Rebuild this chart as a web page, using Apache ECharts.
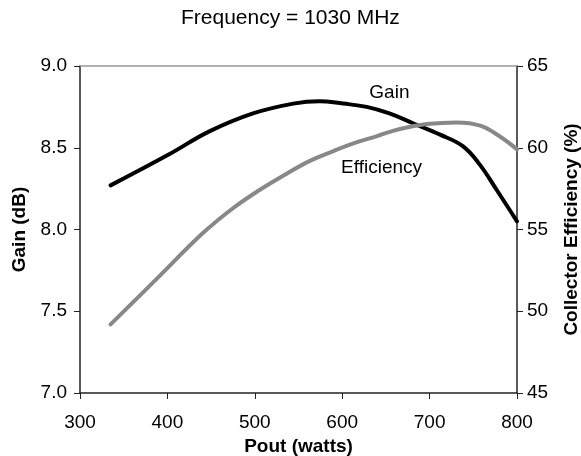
<!DOCTYPE html>
<html><head><meta charset="utf-8">
<script src="https://cdn.jsdelivr.net/npm/echarts@6/dist/echarts.min.js"></script>
<style>html,body{margin:0;padding:0;background:#fff}#c{width:581px;height:456px}</style>
</head><body><div id="c"></div>
<script>
const title = "Frequency = 1030 MHz";
const xName = "Pout (watts)";
const gainName = "Gain (dB)";
const effName = "Collector Efficiency (%)";
const gainPout = [335, 402, 448, 498, 544, 574, 601, 628, 654, 681, 712, 738, 757, 777, 800];
const gainVals = [8.27, 8.46, 8.60, 8.71, 8.77, 8.785, 8.77, 8.75, 8.71, 8.65, 8.58, 8.51, 8.40, 8.24, 8.05];
const effPout = [335, 390, 440, 475, 505, 536, 563, 590, 612, 639, 666, 697, 731, 758, 780, 800];
const effVals = [49.2, 52.1, 54.75, 56.3, 57.4, 58.4, 59.2, 59.8, 60.25, 60.7, 61.15, 61.45, 61.55, 61.35, 60.7, 59.9];
const gainLabel = "Gain";
const effLabel = "Efficiency";

const font = "Liberation Sans, Arial, sans-serif";
const FS = 19;
const chart = echarts.init(document.getElementById('c'));
chart.setOption({
  animation:false,
  title:{text:title, left:176, top:3, textStyle:{fontFamily:font, fontSize:21, fontWeight:'normal', color:'#000'}},
  grid:{left:80, right:64, top:66, bottom:63, containLabel:false, outerBoundsMode:'none'},
  xAxis:[{type:'value', min:300, max:800, interval:100, name:xName, nameLocation:'middle', nameGap:39,
    nameTextStyle:{fontFamily:font, fontSize:FS, fontWeight:'bold', color:'#000'},
    axisLine:{lineStyle:{color:'#222', width:1.5}}, axisTick:{show:true, inside:false, length:6, lineStyle:{color:'#222'}},
    axisLabel:{fontFamily:font, fontSize:FS, color:'#000', margin:20}, splitLine:{show:false}},
    {type:'value', position:'top', min:300, max:800, axisLine:{lineStyle:{color:'#999', width:1.5}}, axisTick:{show:false}, axisLabel:{show:false}, splitLine:{show:false}}],
  yAxis:[{type:'value', min:7.0, max:9.0, interval:0.5, name:gainName, nameLocation:'middle', nameRotate:90, nameGap:43,
    nameTextStyle:{fontFamily:font, fontSize:FS, fontWeight:'bold', color:'#000'},
    axisLine:{show:true, lineStyle:{color:'#222', width:1.5}}, axisTick:{show:true, length:6, lineStyle:{color:'#222'}},
    axisLabel:{fontFamily:font, fontSize:FS, color:'#000', margin:13, formatter:v=>v.toFixed(1)}, splitLine:{show:false}},
   {type:'value', position:'right', min:45, max:65, interval:5, name:effName, nameLocation:'middle', nameRotate:90, nameGap:45,
    nameTextStyle:{fontFamily:font, fontSize:FS, fontWeight:'bold', color:'#000'},
    axisLine:{show:true, lineStyle:{color:'#222', width:1.5}}, axisTick:{show:true, length:6, lineStyle:{color:'#222'}},
    axisLabel:{fontFamily:font, fontSize:FS, color:'#000', margin:10}, splitLine:{show:false}}],
  series:[
    {type:'line', name:gainLabel, xAxisIndex:0, yAxisIndex:0, data:gainPout.map((p,i)=>[p,gainVals[i]]), smooth:0.4, showSymbol:false,
     lineStyle:{color:'#000', width:4, cap:'round'},
     markPoint:{symbol:'circle', symbolSize:0, label:{show:true, formatter:gainLabel, fontFamily:font, fontSize:FS, color:'#000', position:'inside'},
       data:[{coord:[654, 8.835]}]}},
    {type:'line', name:effLabel, xAxisIndex:0, yAxisIndex:1, data:effPout.map((p,i)=>[p,effVals[i]]), smooth:0.4, showSymbol:false,
     lineStyle:{color:'#888', width:4, cap:'round'},
     markPoint:{symbol:'circle', symbolSize:0, label:{show:true, formatter:effLabel, fontFamily:font, fontSize:FS, color:'#000', position:'inside'},
       data:[{coord:[645, 58.76]}]}}
  ]
});
</script></body></html>
